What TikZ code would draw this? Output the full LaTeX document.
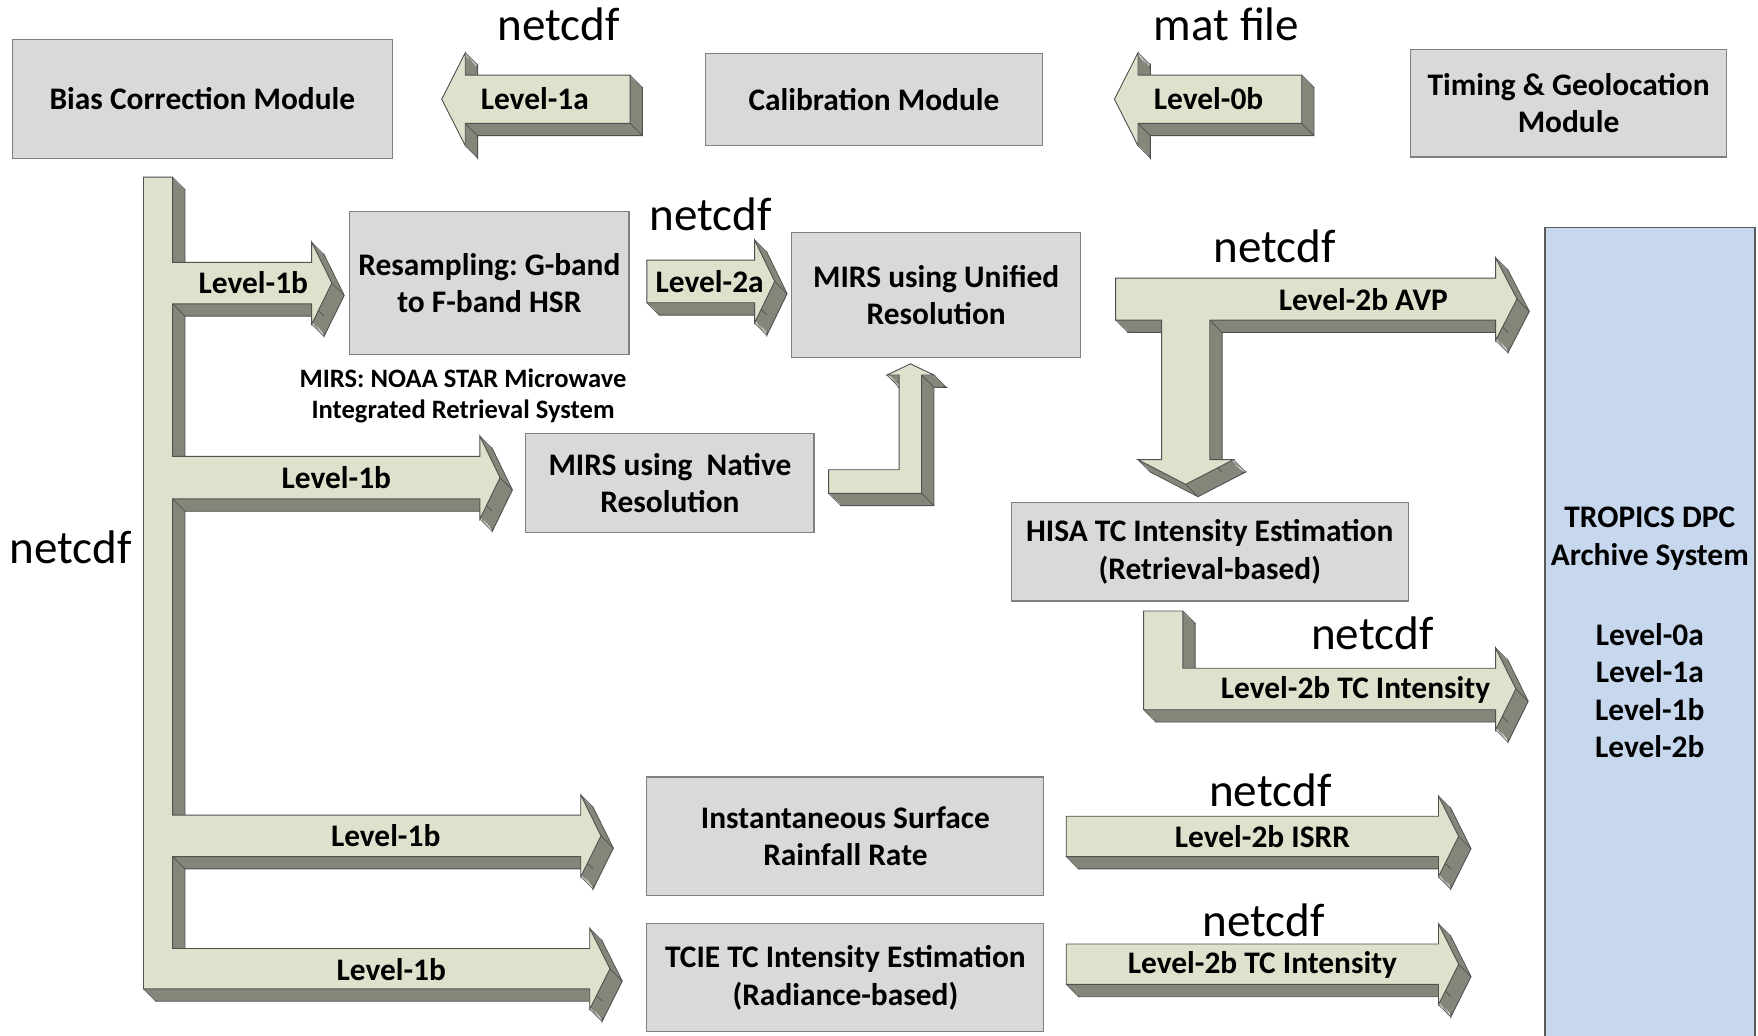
\documentclass[tikz,border=0pt]{standalone}
\usepackage{fontspec}
\setmainfont{Carlito}
\frenchspacing
\definecolor{boxfill}{HTML}{D9D9D9}
\definecolor{boxline}{HTML}{808080}
\definecolor{arrlight}{HTML}{DDE2CC}
\definecolor{arrdark}{HTML}{84867A}
\definecolor{arredge}{HTML}{505050}
\definecolor{archfill}{HTML}{C6D7EE}
\definecolor{archline}{HTML}{5A5A5A}
\pgfdeclareplotmark{extline}{\pgfpathmoveto{\pgfpointorigin}\pgfpathlineto{\pgfpoint{11pt}{-11pt}}\pgfusepathqstroke}
\newcommand\tdshape[1]{%
  \fill[arrdark, draw=arredge, line width=0.8pt, shift={(11,11)}] plot coordinates {#1} -- cycle;
  \foreach \k in {0,...,10}{\fill[arrdark, shift={(\k,\k)}] plot coordinates {#1} -- cycle;}
  \draw[arredge, line width=0.6pt] plot[only marks, mark=extline] coordinates {#1};
  \draw[arredge, line width=0.8pt, fill=arrlight] plot coordinates {#1} -- cycle;
}
\tikzset{
  modbox/.style={draw=boxline, line width=1pt, fill=boxfill, align=center, inner sep=0pt,
    font=\fontsize{28}{33.5}\selectfont\bfseries},
  lvl/.style={font=\fontsize{28}{33.5}\selectfont\bfseries, inner sep=0pt, align=center},
  fmt/.style={font=\fontsize{42}{48}\selectfont, inner sep=0pt},
  note/.style={font=\fontsize{23.7}{28}\selectfont\bfseries, inner sep=0pt, align=center},
}
\begin{document}
\begin{tikzpicture}[x=1pt,y=-1pt]
\useasboundingbox (0,0) rectangle (1568,924);
\clip (0,0) rectangle (1568,924);
\fill[white] (0,0) rectangle (1568,924);

% boxes
\node[modbox, minimum width=339, minimum height=106] (bias) at (180.5,88) {Bias Correction Module};
\node[modbox, minimum width=301, minimum height=82] (calib) at (779.5,89) {Calibration Module};
\node[modbox, minimum width=282, minimum height=96] (timing) at (1399,92) {Timing \& Geolocation\\Module};
\node[modbox, minimum width=249, minimum height=127] (resamp) at (436.5,252.5) {Resampling: G-band\\to F-band HSR};
\node[modbox, minimum width=258, minimum height=112] (unified) at (835,263) {MIRS using Unified\\Resolution};
\node[modbox, minimum width=257, minimum height=88] (native) at (597.5,431) {MIRS using\ \ Native\\Resolution};
\node[modbox, minimum width=354, minimum height=88] (hisa) at (1079,492) {HISA TC Intensity Estimation\\(Retrieval-based)};
\node[modbox, minimum width=354, minimum height=106] (isrr) at (754,746) {Instantaneous Surface\\Rainfall Rate};
\node[modbox, minimum width=354, minimum height=96] (tcie) at (754,872) {TCIE TC Intensity Estimation\\(Radiance-based)};
\node[draw=archline, line width=1.5pt, fill=archfill, minimum width=187, minimum height=760, inner sep=0pt] (archive) at (1471.5,583) {};
\node[lvl] (archtitle) at (1471.5,480.5) {TROPICS DPC\\Archive System};
\node[lvl] (archlevels) at (1471.5,616) {Level-0a\\Level-1a\\Level-1b\\Level-2b};

% 3D arrows
\tdshape{(562,67) (562,110) (415,110) (415,130) (394,88.5) (415,47) (415,67)}
\tdshape{(1161,67) (1161,110) (1015,110) (1015,130) (994,88.5) (1015,47) (1015,67)}
\tdshape{(128,158) (154,158) (154,234) (278,234) (278,216) (296,252.5) (278,289) (278,271) (154,271) (154,407) (428,407) (428,389) (446,426) (428,463) (428,445) (154,445) (154,727) (518,727) (518,709) (536,745.5) (518,782) (518,764) (154,764) (154,846) (526,846) (526,828) (544,864) (526,900) (526,882) (128,882)}
\tdshape{(577,232) (673,232) (673,214) (691,251) (673,288) (673,270) (577,270)}
\tdshape{(739,419) (802,419) (802,334.5) (791,334.5) (812,324.5) (833,334.5) (822,334.5) (822,440) (739,440)}
\tdshape{(995,248) (1334,248) (1334,230) (1353,266.75) (1334,303.5) (1334,285.5) (1079,285.5) (1079,410) (1100,410) (1057.5,432) (1015,410) (1036,410) (1036,285.5) (995,285.5)}
\tdshape{(1020,545) (1055,545) (1055,596) (1334,596) (1334,578) (1352,614.5) (1334,651) (1334,633) (1020,633)}
\tdshape{(951,728) (1283,728) (1283,710) (1301,746) (1283,782) (1283,764) (951,764)}
\tdshape{(951,842) (1283,842) (1283,824) (1301,860) (1283,896) (1283,878) (951,878)}

% arrow labels
\node[lvl] (l1a) at (477,88) {Level-1a};
\node[lvl] (l0b) at (1078,88) {Level-0b};
\node[lvl] (l1b1) at (226,252) {Level-1b};
\node[lvl] (l1b2) at (300,426) {Level-1b};
\node[lvl] (l1b3) at (344,745) {Level-1b};
\node[lvl] (l1b4) at (349,865) {Level-1b};
\node[lvl] (l2a) at (633,251) {Level-2a};
\node[lvl] (l2avp) at (1216,267) {Level-2b AVP};
\node[lvl] (l2tc1) at (1209,615) {Level-2b TC Intensity};
\node[lvl] (l2isrr) at (1126,746) {Level-2b ISRR};
\node[lvl] (l2tc2) at (1126,861) {Level-2b TC Intensity};

% format labels
\node[fmt] (f1) at (498,22) {netcdf};
\node[fmt] (f2) at (1094,22) {mat file};
\node[fmt] (f3) at (634,191) {netcdf};
\node[fmt] (f4) at (1137,220) {netcdf};
\node[fmt] (f5) at (1224,565) {netcdf};
\node[fmt] (f6) at (1133,705) {netcdf};
\node[fmt] (f7) at (1127,821) {netcdf};
\node[fmt] (f8) at (63,488) {netcdf};

\node[note] (mirsnote) at (413,353) {MIRS: NOAA STAR Microwave\\Integrated Retrieval System};
\end{tikzpicture}
\end{document}
